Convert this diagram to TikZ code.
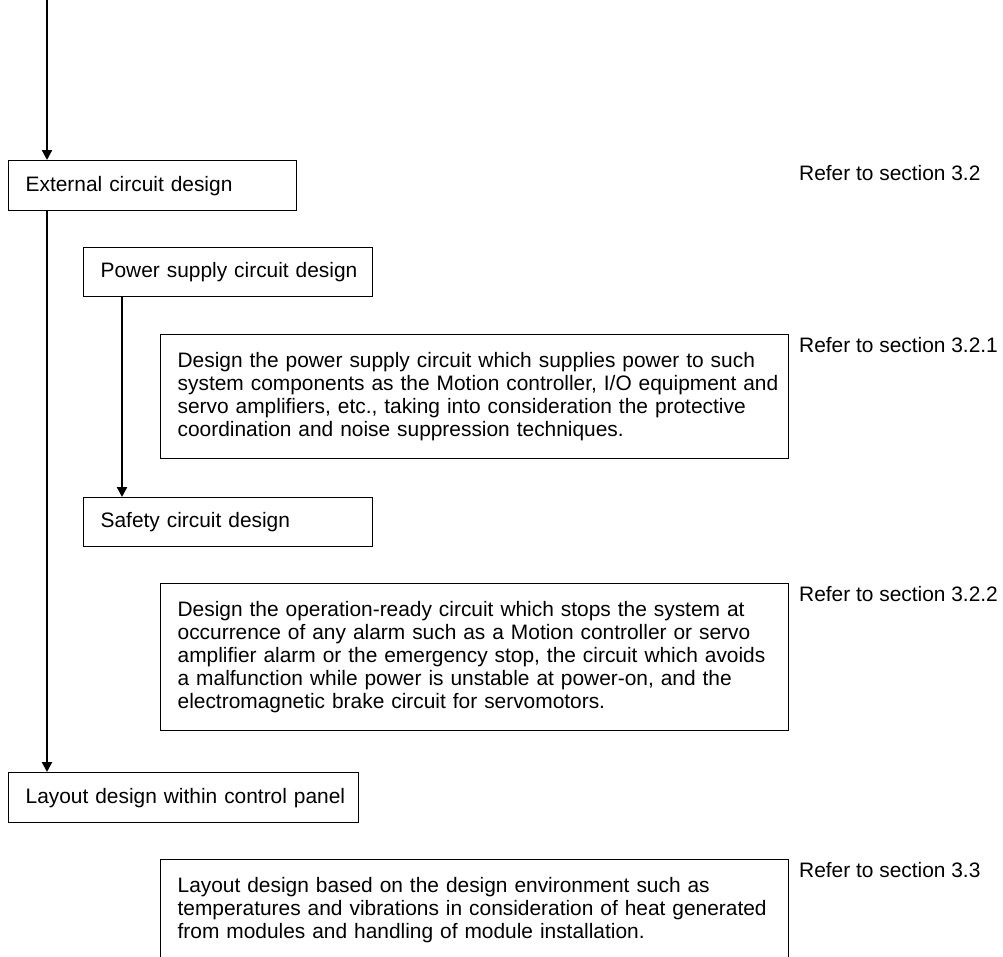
\documentclass[tikz,border=0pt]{standalone}
\usepackage{fontspec}
\setmainfont{Liberation Sans}
\usetikzlibrary{arrows.meta}
\newcommand{\oneline}[1]{\mbox{#1}}
\begin{document}
\begin{tikzpicture}[x=1pt,y=-1pt,
  every node/.style={font=\fontsize{20.9pt}{22.8pt}\selectfont},
  stepbox/.style={draw=black,line width=1.3pt,rectangle,anchor=north west,
    inner xsep=17pt,inner ysep=0pt,align=left},
  refer/.style={anchor=base west,inner sep=0pt},
  conn/.style={line width=2.2pt,-{Triangle[length=10pt,width=10pt]}}]
\useasboundingbox (0,0) rectangle (1003,956);
\clip (0,0) rectangle (1003,956);
\node[stepbox,minimum width=288pt,minimum height=50pt,text width=254pt] (ext) at (8,160) {\oneline{External circuit design}};
\node[stepbox,minimum width=289pt,minimum height=49pt,text width=255pt] (power) at (83,247) {\oneline{Power supply circuit design}};
\node[stepbox,minimum width=628pt,minimum height=124pt,text width=594pt] (det1) at (160,334) {%
\oneline{Design the power supply circuit which supplies power to such}\\
\oneline{system components as the Motion controller, I/O equipment and}\\
\oneline{servo amplifiers, etc., taking into consideration the protective}\\
\oneline{coordination and noise suppression techniques.}};
\node[stepbox,minimum width=289pt,minimum height=49pt,text width=255pt] (safety) at (83,497) {\oneline{Safety circuit design}};
\node[stepbox,minimum width=628pt,minimum height=147pt,text width=594pt] (det2) at (160,583) {%
\oneline{Design the operation-ready circuit which stops the system at}\\
\oneline{occurrence of any alarm such as a Motion controller or servo}\\
\oneline{amplifier alarm or the emergency stop, the circuit which avoids}\\
\oneline{a malfunction while power is unstable at power-on, and the}\\
\oneline{electromagnetic brake circuit for servomotors.}};
\node[stepbox,minimum width=350pt,minimum height=50pt,text width=316pt] (layout) at (8,772) {\oneline{Layout design within control panel}};
\node[stepbox,minimum width=628pt,minimum height=101pt,text width=594pt] (det3) at (160,859) {%
\oneline{Layout design based on the design environment such as}\\
\oneline{temperatures and vibrations in consideration of heat generated}\\
\oneline{from modules and handling of module installation.}};
\node[refer] (r1) at (799,180) {Refer to section 3.2};
\node[refer] (r2) at (799,352) {Refer to section 3.2.1};
\node[refer] (r3) at (799,601) {Refer to section 3.2.2};
\node[refer] (r4) at (799,877) {Refer to section 3.3};
\coordinate (top) at (47,0);
\draw[conn] (top) -- (top |- ext.north);
\draw[conn] (ext.south -| top) -- (layout.north -| top);
\draw[conn] ([xshift=39pt]power.south west) -- ([xshift=39pt]safety.north west);
\end{tikzpicture}
\end{document}
